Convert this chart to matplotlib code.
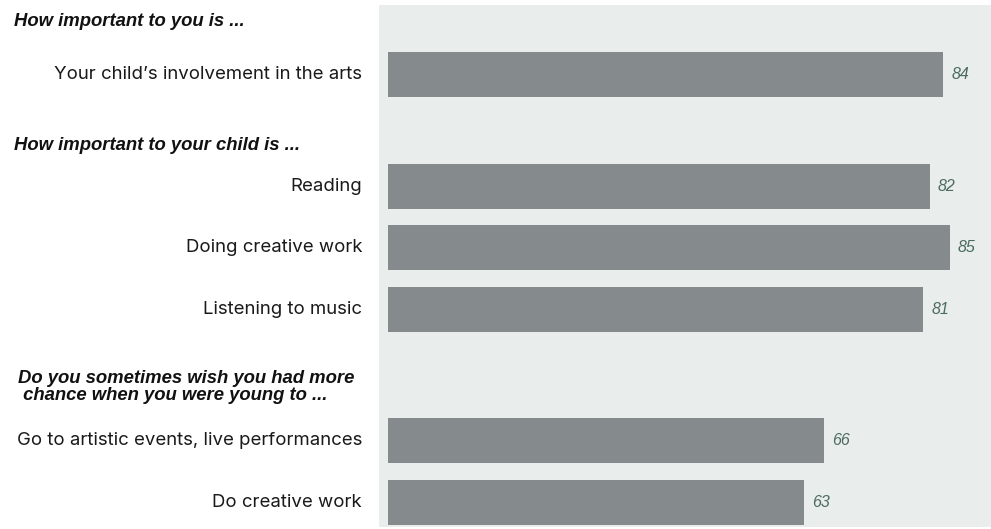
import matplotlib.pyplot as plt

# data
labels = ["Your child\u2019s involvement in the arts",
          "Reading",
          "Doing creative work",
          "Listening to music",
          "Go to artistic events, live performances",
          "Do creative work"]
values = [84, 82, 85, 81, 66, 63]
headers = ["How important to you is ...",
           "How important to your child is ...",
           "Do you sometimes wish you had more\n chance when you were young to ..."]

# layout (pixel rows, top-down)
W, H = 991, 529
row_y = [74.5, 186.5, 247.5, 309.5, 440.5, 502.5]
header_y = [22, 146, 387]
header_x = [14, 14, 18]
bar_h = 45
px_per_unit = 6.61
x0_px = 388
panel_left, panel_top, panel_bottom = 379, 5, 527

plt.rcParams['font.family'] = ['Liberation Sans', 'DejaVu Sans']

fig = plt.figure(figsize=(W / 100, H / 100), dpi=100)
ax = fig.add_axes([panel_left / W, 1 - panel_bottom / H,
                   (W - panel_left) / W, (panel_bottom - panel_top) / H])
ax.set_facecolor('#e9edec')
ax.set_xlim(-(x0_px - panel_left) / px_per_unit, (W - x0_px) / px_per_unit)
ax.set_ylim(panel_bottom, panel_top)

ax.barh(row_y, values, height=bar_h, color='#858b8c')
for y, v in zip(row_y, values):
    ax.text(v + 1.2, y, str(v), va='center', ha='left', fontsize=11.5,
            style='italic', color='#4c6b60')

for s in ax.spines.values():
    s.set_visible(False)
ax.set_xticks([])
ax.set_yticks([])

# category labels and headers in figure pixel coordinates
for y, lab in zip(row_y, labels):
    fig.text(362 / W, 1 - y / H, lab, ha='right', va='center',
             fontsize=13.4, color='#1a1a1a', family=['Inter', 'DejaVu Sans'])

for x, y, h in zip(header_x, header_y, headers):
    fig.text(x / W, 1 - y / H, h, ha='left', va='center', fontsize=13.3,
             weight='bold', style='italic', color='#111111', linespacing=1.0)

fig.savefig('out.png', dpi=100, facecolor='white')
